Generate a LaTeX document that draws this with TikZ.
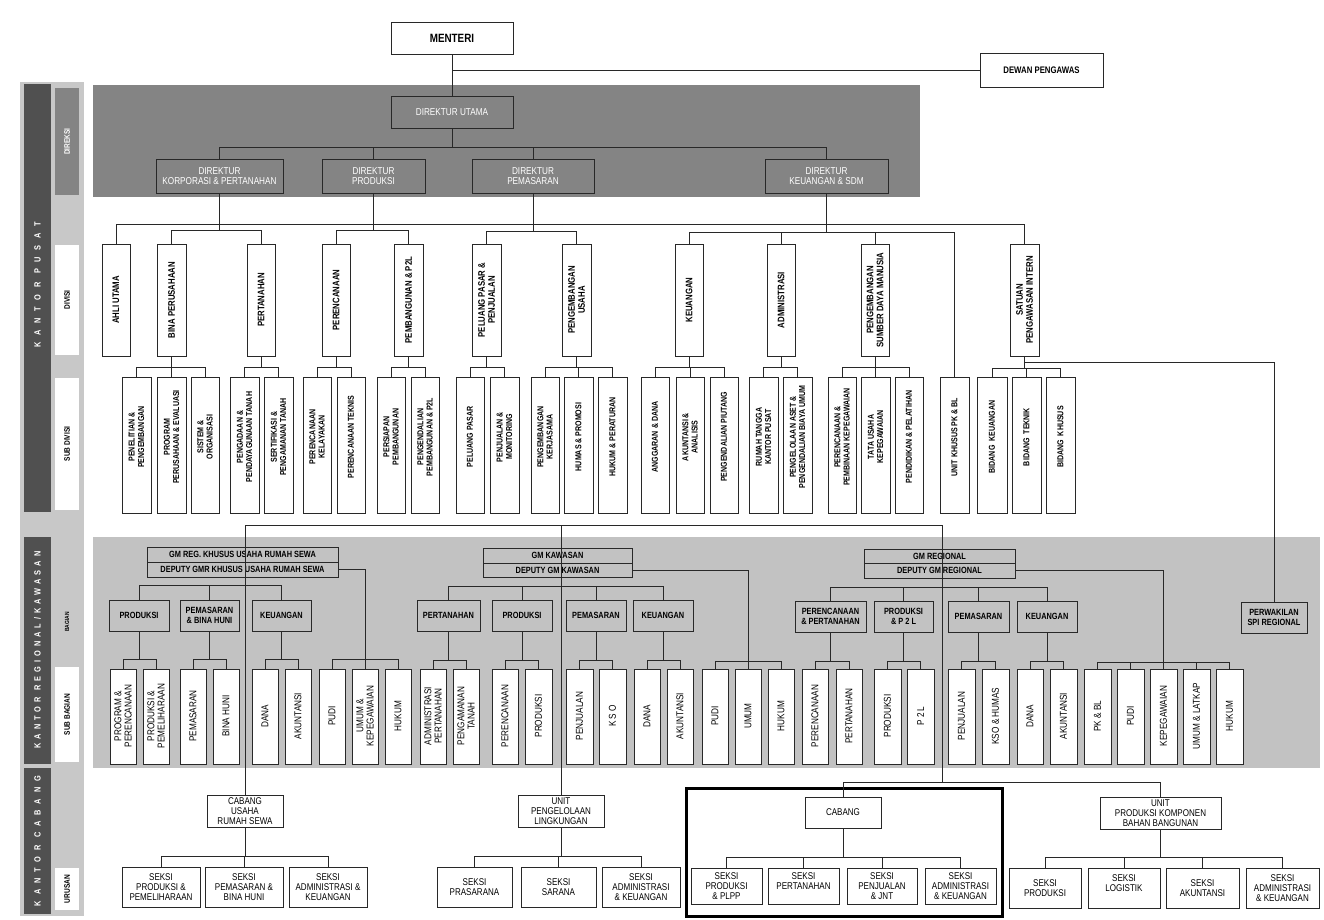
\documentclass[tikz,border=0pt]{standalone}
\usepackage{fontspec}
\setmainfont{Liberation Sans}[FakeStretch=0.82]
\definecolor{dirgray}{RGB}{132,132,132}
\definecolor{reggray}{RGB}{194,194,194}
\definecolor{stripgray}{RGB}{200,200,200}
\definecolor{stripdark}{RGB}{80,80,80}
\definecolor{linec}{RGB}{40,40,40}
\tikzset{
  every node/.style={inner sep=1pt, outer sep=0pt},
  conn/.style={draw=linec, line width=1pt},
  boxline/.style={draw=linec, line width=1pt},
  topb/.style={boxline, fill=white, font=\bfseries\fontsize{12}{12}\selectfont},
  dewb/.style={boxline, fill=white, font=\bfseries\fontsize{9.5}{10}\selectfont},
  dirb/.style={boxline, fill=dirgray, text=white, align=center, font=\fontsize{10}{10.5}\selectfont},
  gmb/.style={boxline, fill=reggray, font=\bfseries\fontsize{9}{9.5}\selectfont},
  bagb/.style={boxline, fill=reggray, align=center, font=\bfseries\fontsize{9}{9.5}\selectfont},
  wbox/.style={boxline, fill=white, align=center, font=\fontsize{9.8}{10}\selectfont},
  vbox/.style={boxline, fill=white},
  vtxt/.style={rotate=90, align=center, inner sep=0pt},
  divf/.style={font=\bfseries\fontsize{9.5}{10}\selectfont},
  sdivf/.style={font=\bfseries\fontsize{8.6}{9.4}\selectfont},
  sbf/.style={font=\fontsize{10}{10.3}\selectfont},
  lstrip/.style={rotate=90, text=white},
  lcolt/.style={rotate=90, font=\bfseries\fontsize{8}{8.5}\selectfont},
}
\newcommand\HB[7]{%
  \node[#1, minimum width={#5-#3}, minimum height={#6-#4}] (#2) at ({(#3+#5)/2},{(#4+#6)/2}) {#7};}
\newcommand\VB[8]{%
  \node[vbox, minimum width={#5-#3}, minimum height={#6-#4}] (#2) at ({(#3+#5)/2},{(#4+#6)/2}) {};
  \node[vtxt, #1] (#2t) at ({(#3+#5)/2},#7) {#8};}
\newcommand\DIV[4]{\VB{divf}{#1}{#2}{244}{#3}{356}{300}{#4}}
\newcommand\SDIV[4]{\VB{sdivf}{#1}{#2}{377}{#3}{513}{437}{#4}}
\newcommand\SB[4]{\VB{sbf}{#1}{#2}{669}{#3}{764}{716}{#4}}
\newcommand\BUS[5]{%
  \draw[conn] (#1.south) -- (#1.south |- 0,#2);
  \draw[conn] (#3.north |- 0,#2) -- (#4.north |- 0,#2);
  \foreach \cc in {#5}{\draw[conn] (\cc.north) -- (\cc.north |- 0,#2);}}
\newcommand\HBUS[4]{%
  \draw[conn] (#2.north |- 0,#1) -- (#3.north |- 0,#1);
  \foreach \cc in {#4}{\draw[conn] (\cc.north) -- (\cc.north |- 0,#1);}}
\begin{document}
\begin{tikzpicture}[x=1pt,y=-1pt]
\useasboundingbox (0,0) rectangle (1324,919);
\fill[white] (0,0) rectangle (1324,919);
% bands
\fill[dirgray] (93,85) rectangle (920,197);
\fill[reggray] (93,537) rectangle (1320,768);
% left strip
\fill[stripgray] (20,82) rectangle (84,916);
\fill[stripdark] (24,84) rectangle (51,512);
\fill[stripdark] (24,537) rectangle (51,764);
\fill[stripdark] (24,768) rectangle (51,914);
\node[lstrip, font=\bfseries\fontsize{9}{9}\selectfont\addfontfeature{LetterSpace=75}] (lkp) at (37.5,285) {KANTOR PUSAT};
\node[lstrip, font=\bfseries\fontsize{9}{9}\selectfont\addfontfeature{LetterSpace=45}] (lkr) at (37.5,650) {KANTOR REGIONAL/KAWASAN};
\node[lstrip, font=\bfseries\fontsize{9}{9}\selectfont\addfontfeature{LetterSpace=65}] (lkc) at (37.5,841) {KANTOR CABANG};
\node[fill=dirgray, minimum width=24, minimum height=107] (ldir) at (67,141.5) {};
\node[lcolt, text=white] (ldirt) at (ldir) {DIREKSI};
\node[fill=white, minimum width=24, minimum height=110] (ldiv) at (67,300) {};
\node[lcolt] (ldivt) at (ldiv) {DIVISI};
\node[fill=white, minimum width=24, minimum height=132] (lsdiv) at (67,444) {};
\node[lcolt] (lsdivt) at (lsdiv) {SUB DIVISI};
\node[lcolt, font=\bfseries\fontsize{6}{6}\selectfont] (lbag) at (67,622) {BAGIAN};
\node[fill=white, minimum width=24, minimum height=95] (lsbag) at (67,714.5) {};
\node[lcolt] (lsbagt) at (lsbag) {SUB BAGIAN};
\node[fill=white, minimum width=24, minimum height=42] (lur) at (67,889) {};
\node[lcolt] (lurt) at (lur) {URUSAN};
% top
\HB{topb}{menteri}{391}{22}{513}{54}{MENTERI}
\HB{dewb}{dewan}{980}{53}{1103}{87}{DEWAN PENGAWAS}
\HB{dirb}{dutama}{391}{96}{513}{128}{DIREKTUR UTAMA}
\HB{dirb}{dkorp}{156}{159}{283}{193}{DIREKTUR\\KORPORASI \& PERTANAHAN}
\HB{dirb}{dprod}{322}{159}{425}{193}{DIREKTUR\\PRODUKSI}
\HB{dirb}{dpem}{472}{159}{594}{193}{DIREKTUR\\PEMASARAN}
\HB{dirb}{dkeu}{765}{159}{888}{193}{DIREKTUR\\KEUANGAN \& SDM}
% divisi
\DIV{ahli}{102}{130}{AHLI UTAMA}
\DIV{bina}{157}{186}{BINA PERUSAHAAN}
\DIV{pert}{247}{275}{PERTANAHAN}
\DIV{peren}{322}{350}{PERENCANAAN}
\DIV{pemb}{394}{423}{PEMBANGUNAN \& P2L}
\DIV{pelu}{472}{501}{PELUANG PASAR \&\\PENJUALAN}
\DIV{pengu}{562}{591}{PENGEMBANGAN\\USAHA}
\DIV{keu}{675}{703}{KEUANGAN}
\DIV{adm}{767}{795}{ADMINISTRASI}
\DIV{sdm}{861}{889}{PENGEMBANGAN\\SUMBER DAYA MANUSIA}
\DIV{spi}{1010}{1039}{SATUAN\\PENGAWASAN INTERN}
% sub divisi
\SDIV{sd1}{122}{151}{PENELITIAN \&\\PENGEMBANGAN}
\SDIV{sd2}{157}{186}{PROGRAM\\PERUSAHAAN \& EVALUASI}
\SDIV{sd3}{191}{219}{SISTEM \&\\ORGANISASI}
\SDIV{sd4}{230}{259}{PENGADAAN \&\\PENDAYAGUNAAN TANAH}
\SDIV{sd5}{264}{293}{SERTIFIKASI \&\\PENGAMANAN TANAH}
\SDIV{sd6}{303}{331}{PERENCANAAN\\KELAYAKAN}
\SDIV{sd7}{337}{365}{PERENCANAAN TEKNIS}
\SDIV{sd8}{377}{405}{PERSIAPAN\\PEMBANGUNAN}
\SDIV{sd9}{411}{439}{PENGENDALIAN\\PEMBANGUNAN \& P2L}
\SDIV{sd10}{456}{484}{PELUANG PASAR}
\SDIV{sd11}{490}{519}{PENJUALAN \&\\MONITORING}
\SDIV{sd12}{531}{559}{PENGEMBANGAN\\KERJASAMA}
\SDIV{sd13}{564}{593}{HUMAS \& PROMOSI}
\SDIV{sd14}{598}{627}{HUKUM \& PERATURAN}
\SDIV{sd15}{641}{669}{ANGGARAN \& DANA}
\SDIV{sd16}{676}{704}{AKUNTANSI \&\\ANALISIS}
\SDIV{sd17}{710}{738}{PENGENDALIAN PIUTANG}
\SDIV{sd18}{749}{778}{RUMAH TANGGA\\KANTOR PUSAT}
\SDIV{sd19}{783}{812}{PENGELOLAAN ASET \&\\PENGENDALIAN BIAYA UMUM}
\SDIV{sd20}{828}{856}{PERENCANAAN \&\\PEMBINAAN KEPEGAWAIAN}
\SDIV{sd21}{861}{890}{TATA USAHA\\KEPEGAWAIAN}
\SDIV{sd22}{895}{923}{PENDIDIKAN \& PELATIHAN}
\SDIV{unitk}{940}{969}{UNIT KHUSUS PK \& BL}
\SDIV{bk}{977}{1007}{BIDANG\ \ KEUANGAN}
\SDIV{bt}{1012}{1041}{BIDANG\ \ TEKNIK}
\SDIV{bkh}{1046}{1075}{BIDANG\ \ KHUSUS}
% regional GM
\HB{gmb}{gmA1}{147}{547}{338}{562}{GM REG. KHUSUS USAHA RUMAH SEWA}
\HB{gmb}{gmA2}{147}{562}{338}{577}{DEPUTY GMR KHUSUS USAHA RUMAH SEWA}
\HB{gmb}{gmK1}{483}{548}{632}{563}{GM KAWASAN}
\HB{gmb}{gmK2}{483}{563}{632}{577}{DEPUTY GM KAWASAN}
\HB{gmb}{gmR1}{864}{549}{1015}{563}{GM REGIONAL}
\HB{gmb}{gmR2}{864}{563}{1015}{578}{DEPUTY GM REGIONAL}
% bagian
\HB{bagb}{prA}{109}{600}{169}{631}{PRODUKSI}
\HB{bagb}{pmA}{180}{600}{239}{631}{PEMASARAN\\\& BINA HUNI}
\HB{bagb}{keA}{252}{600}{311}{631}{KEUANGAN}
\HB{bagb}{ptK}{417}{600}{480}{631}{PERTANAHAN}
\HB{bagb}{prK}{492}{600}{552}{631}{PRODUKSI}
\HB{bagb}{pmK}{566}{600}{626}{631}{PEMASARAN}
\HB{bagb}{keK}{633}{600}{693}{631}{KEUANGAN}
\HB{bagb}{ppR}{795}{601}{866}{632}{PERENCANAAN\\\& PERTANAHAN}
\HB{bagb}{prR}{874}{601}{933}{632}{PRODUKSI\\\& P 2 L}
\HB{bagb}{pmR}{948}{601}{1009}{632}{PEMASARAN}
\HB{bagb}{keR}{1017}{601}{1077}{632}{KEUANGAN}
\HB{bagb}{perw}{1241}{602}{1307}{633}{PERWAKILAN\\SPI REGIONAL}
% sub bagian
\SB{a1}{110}{136}{PROGRAM \&\\PERENCANAAN}
\SB{a2}{143}{169}{PRODUKSI \&\\PEMELIHARAAN}
\SB{a3}{180}{206}{PEMASARAN}
\SB{a4}{213}{239}{BINA HUNI}
\SB{a5}{252}{278}{DANA}
\SB{a6}{285}{311}{AKUNTANSI}
\SB{a7}{319}{345}{PUDI}
\SB{a8}{352}{378}{UMUM \&\\KEPEGAWAIAN}
\SB{a9}{385}{411}{HUKUM}
\SB{k1}{420}{446}{ADMINISTRASI\\PERTANAHAN}
\SB{k2}{453}{479}{PENGAMANAN\\TANAH}
\SB{k3}{492}{518}{PERENCANAAN}
\SB{k4}{525}{552}{PRODUKSI}
\SB{k5}{566}{593}{PENJUALAN}
\SB{k6}{599}{626}{K S O}
\SB{k7}{634}{660}{DANA}
\SB{k8}{667}{693}{AKUNTANSI}
\SB{k9}{702}{728}{PUDI}
\SB{k10}{735}{761}{UMUM}
\SB{k11}{768}{794}{HUKUM}
\SB{r1}{802}{828}{PERENCANAAN}
\SB{r2}{836}{862}{PERTANAHAN}
\SB{r3}{874}{901}{PRODUKSI}
\SB{r4}{907}{934}{P 2 L}
\SB{r5}{948}{975}{PENJUALAN}
\SB{r6}{982}{1009}{KSO \& HUMAS}
\SB{r7}{1017}{1043}{DANA}
\SB{r8}{1050}{1077}{AKUNTANSI}
\SB{r9}{1084}{1111}{PK \& BL}
\SB{r10}{1117}{1144}{PUDI}
\SB{r11}{1150}{1177}{KEPEGAWAIAN}
\SB{r12}{1183}{1210}{UMUM \& LATKAP}
\SB{r13}{1216}{1243}{HUKUM}
% cabang level
\HB{wbox}{cus}{207}{795}{283}{827}{CABANG\\USAHA\\RUMAH SEWA}
\HB{wbox}{upl}{518}{795}{604}{827}{UNIT\\PENGELOLAAN\\LINGKUNGAN}
\HB{wbox}{cab}{805}{797}{881}{828}{CABANG}
\HB{wbox}{upk}{1100}{797}{1221}{829}{UNIT\\PRODUKSI KOMPONEN\\BAHAN BANGUNAN}
\HB{wbox}{c1}{122}{867}{200}{907}{SEKSI\\PRODUKSI \&\\PEMELIHARAAN}
\HB{wbox}{c2}{205}{867}{283}{907}{SEKSI\\PEMASARAN \&\\BINA HUNI}
\HB{wbox}{c3}{289}{867}{367}{907}{SEKSI\\ADMINISTRASI \&\\KEUANGAN}
\HB{wbox}{u1}{437}{867}{512}{907}{SEKSI\\PRASARANA}
\HB{wbox}{u2}{521}{867}{596}{907}{SEKSI\\SARANA}
\HB{wbox}{u3}{602}{867}{680}{907}{SEKSI\\ADMINISTRASI\\\& KEUANGAN}
\HB{wbox}{b1}{691}{868}{762}{904}{SEKSI\\PRODUKSI\\\& PLPP}
\HB{wbox}{b2}{768}{868}{839}{904}{SEKSI\\PERTANAHAN\\ }
\HB{wbox}{b3}{847}{868}{917}{904}{SEKSI\\PENJUALAN\\\& JNT}
\HB{wbox}{b4}{925}{868}{996}{904}{SEKSI\\ADMINISTRASI\\\& KEUANGAN}
\HB{wbox}{p1}{1009}{868}{1081}{908}{SEKSI\\PRODUKSI}
\HB{wbox}{p2}{1088}{868}{1160}{908}{SEKSI\\LOGISTIK\\ }
\HB{wbox}{p3}{1166}{868}{1239}{908}{SEKSI\\AKUNTANSI}
\HB{wbox}{p4}{1246}{868}{1319}{908}{SEKSI\\ADMINISTRASI\\\& KEUANGAN}
% highlight
\draw[line width=3pt] (686,788) rectangle (1002,916);
% ---------- connectors ----------
\draw[conn] (menteri.south) -- (dutama.north);
\draw[conn] (menteri.south |- dewan.west) -- (dewan.west);
\BUS{dutama}{147}{dkorp}{dkeu}{dkorp,dprod,dpem,dkeu}
\draw[conn] (ahli.north) |- (spi.north |- 0,224) -- (spi.north);
\BUS{dkorp}{230}{bina}{pert}{bina,pert}
\BUS{dprod}{230}{peren}{pemb}{peren,pemb}
\BUS{dpem}{231}{pelu}{pengu}{pelu,pengu}
\BUS{dkeu}{232}{keu}{unitk}{keu,adm,sdm,unitk}
\BUS{bina}{367}{sd1}{sd3}{sd1,sd2,sd3}
\BUS{pert}{367}{sd4}{sd5}{sd4,sd5}
\BUS{peren}{367}{sd6}{sd7}{sd6,sd7}
\BUS{pemb}{367}{sd8}{sd9}{sd8,sd9}
\BUS{pelu}{367}{sd10}{sd11}{sd10,sd11}
\BUS{pengu}{367}{sd12}{sd14}{sd12,sd13,sd14}
\BUS{keu}{367}{sd15}{sd17}{sd15,sd16,sd17}
\BUS{adm}{367}{sd18}{sd19}{sd18,sd19}
\BUS{sdm}{367}{sd20}{sd22}{sd20,sd21,sd22}
\BUS{spi}{368}{bk}{bkh}{bk,bt,bkh}
\draw[conn] (spi.south |- 0,362) -| (perw.north);
% regional trunks
\coordinate (tR) at (942,525);
\coordinate (bR) at (942,782);
\draw[conn] (cus.north) -- (cus.north |- tR) -- (tR) -- (bR);
\draw[conn] (upl.north) -- (upl.north |- tR);
\draw[conn] (cab.north) |- (bR) -| (upk.north);
% bagian buses
\HBUS{585}{prA}{keA}{prA,pmA,keA}
\HBUS{586}{ptK}{keK}{ptK,prK,pmK,keK}
\HBUS{587}{ppR}{keR}{ppR,prR,pmR,keR}
% sub bagian buses
\BUS{prA}{659}{a1}{a2}{a1,a2}
\BUS{pmA}{659}{a3}{a4}{a3,a4}
\BUS{keA}{659}{a5}{a6}{a5,a6}
\draw[conn] (gmA2.east) -| (a8.north);
\HBUS{659}{a7}{a9}{a7,a9}
\BUS{ptK}{660}{k1}{k2}{k1,k2}
\BUS{prK}{660}{k3}{k4}{k3,k4}
\BUS{pmK}{660}{k5}{k6}{k5,k6}
\BUS{keK}{660}{k7}{k8}{k7,k8}
\draw[conn] (gmK2.east) -| (k10.north);
\HBUS{661}{k9}{k11}{k9,k11}
\BUS{ppR}{661}{r1}{r2}{r1,r2}
\BUS{prR}{661}{r3}{r4}{r3,r4}
\BUS{pmR}{661}{r5}{r6}{r5,r6}
\BUS{keR}{661}{r7}{r8}{r7,r8}
\draw[conn] (gmR2.east) -| (r11.north);
\HBUS{662}{r9}{r13}{r9,r10,r12,r13}
% cabang buses
\BUS{cus}{856}{c1}{c3}{c1,c2,c3}
\BUS{upl}{856}{u1}{u3}{u1,u2,u3}
\BUS{cab}{857}{b1}{b4}{b1,b2,b3,b4}
\BUS{upk}{857}{p1}{p4}{p1,p2,p3,p4}
\end{tikzpicture}
\end{document}
